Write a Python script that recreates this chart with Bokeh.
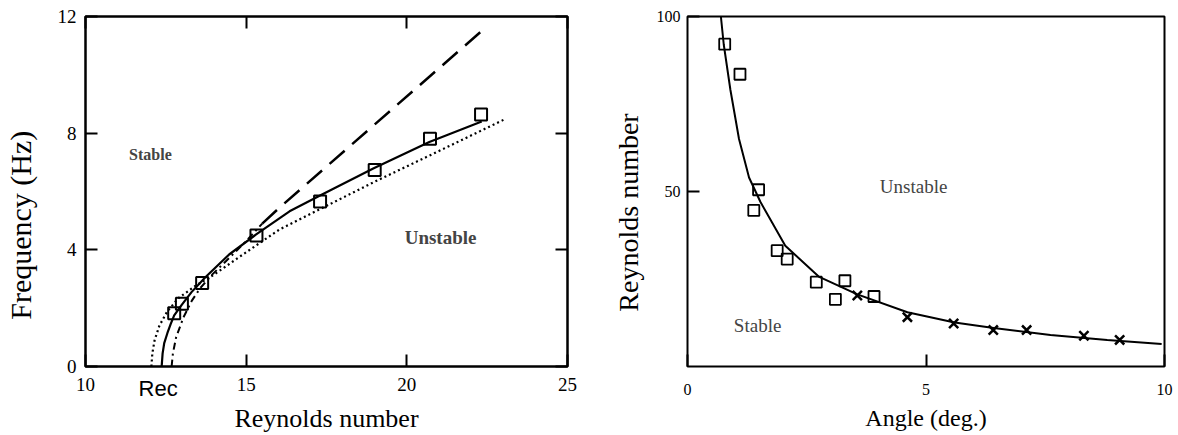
from bokeh.plotting import figure
from bokeh.layouts import row
from bokeh.models import Range1d, FixedTicker, Label, LinearAxis
from bokeh.embed import file_html
from bokeh.resources import INLINE

# ---------------- Left panel data (Frequency vs Reynolds number) ----------------
exp_re = [12.76, 13.0, 13.63, 15.32, 17.30, 19.0, 20.72, 22.31]
exp_hz = [1.83, 2.15, 2.86, 4.49, 5.66, 6.74, 7.81, 8.64]

solid_re = [12.37, 12.40, 12.45, 12.55, 12.65, 12.76, 13.0, 13.3, 13.73, 14.47, 15.30, 16.35, 17.3, 18.97, 20.70, 22.33]
solid_hz = [0.0, 0.45, 0.8, 1.15, 1.45, 1.75, 2.12, 2.55, 3.06, 3.84, 4.52, 5.32, 5.86, 6.8, 7.7, 8.4]

dot_re = [12.05, 12.08, 12.15, 12.3, 12.55, 12.9, 13.4, 14.0, 14.78, 16.04, 18.97, 20.7, 22.96, 23.08]
dot_hz = [0.0, 0.45, 0.9, 1.4, 1.9, 2.35, 2.75, 3.15, 3.75, 4.7, 6.32, 7.23, 8.43, 8.5]

dashdot_re = [12.68, 12.72, 12.82, 13.05, 13.31, 13.58, 13.94, 14.5, 15.0, 15.5]
dashdot_hz = [0.0, 0.45, 1.0, 1.69, 2.26, 2.7, 3.15, 3.75, 4.3, 4.9]

dash_re = [15.5, 16.04, 22.41]
dash_hz = [4.9, 5.45, 11.58]

left_xticks = [10, 15, 20, 25]
left_yticks = [0, 4, 8, 12]
rec_tick = [12.26]
rec_label = {12.26: "Re\u1d04"}

# ---------------- Right panel data (Reynolds number vs Angle) ----------------
sq_angle = [0.78, 1.10, 1.49, 1.39, 1.88, 2.09, 2.70, 3.10, 3.30, 3.91]
sq_re = [92.1, 83.5, 50.5, 44.6, 33.1, 30.7, 24.1, 19.2, 24.5, 20.0]

x_angle = [3.56, 4.61, 5.58, 6.41, 7.11, 8.31, 9.06]
x_re = [20.3, 14.1, 12.3, 10.4, 10.4, 8.8, 7.6]

curve_angle = [0.70, 0.76, 0.90, 1.08, 1.29, 1.53, 2.05, 2.75, 3.56, 4.61, 5.6, 6.42, 7.61, 8.80, 9.94]
curve_re = [100, 92, 79, 65, 54, 47, 34.5, 25.7, 20.6, 15.5, 12.6, 11.0, 9.0, 7.6, 6.4]

right_xticks = [0, 5, 10]
right_yticks = [50, 100]

SERIF = "Liberation Serif"
SANS = "Liberation Sans"
NB = "\u00a0"


def style_axis(ax, size):
    ax.major_tick_in = 12
    ax.major_tick_out = 0
    ax.minor_tick_in = 0
    ax.minor_tick_out = 0
    ax.major_tick_line_width = 2
    ax.major_tick_line_color = "black"
    ax.axis_line_color = None
    ax.major_label_text_font = SERIF
    ax.major_label_text_font_size = size
    ax.major_label_text_color = "black"
    ax.axis_label_text_font = SERIF
    ax.axis_label_text_font_style = "normal"
    ax.axis_label_text_color = "black"


def blank_axis(ax):
    ax.major_label_text_font_size = "0px"
    ax.major_label_text_color = None
    ax.major_label_standoff = 0
    ax.axis_label = None


# ---------------- Left figure ----------------
p1 = figure(width=600, height=435, output_backend="svg", toolbar_location=None,
            x_range=Range1d(10, 25), y_range=Range1d(0, 12),
            min_border_left=85, min_border_right=33, min_border_top=16, min_border_bottom=69)
p1.xgrid.visible = False
p1.ygrid.visible = False
p1.outline_line_color = "black"
p1.outline_line_width = 2.5
p1.background_fill_color = "white"

p1.xaxis.ticker = FixedTicker(ticks=left_xticks)
p1.yaxis.ticker = FixedTicker(ticks=left_yticks)
style_axis(p1.xaxis[0], "19px")
style_axis(p1.yaxis[0], "19px")
p1.xaxis.major_label_standoff = 11
p1.yaxis.axis_label = "Frequency (Hz)" + NB * 9
p1.yaxis.axis_label_text_font_size = "30px"
p1.yaxis.major_label_standoff = 9
p1.yaxis.axis_label_standoff = 18

# second bottom axis: carries the Re_c mark and the axis title
rec_axis = LinearAxis(ticker=FixedTicker(ticks=rec_tick))
style_axis(rec_axis, "22px")
rec_axis.major_tick_in = 0
rec_axis.major_tick_line_color = None
rec_axis.major_label_overrides = rec_label
rec_axis.major_label_text_font = SANS
rec_axis.major_label_standoff = -18
rec_axis.axis_label = "Reynolds number"
rec_axis.axis_label_text_font_size = "26px"
rec_axis.axis_label_standoff = 0
p1.add_layout(rec_axis, "below")

top1 = LinearAxis(ticker=FixedTicker(ticks=left_xticks))
right1 = LinearAxis(ticker=FixedTicker(ticks=left_yticks))
for ax in (top1, right1):
    style_axis(ax, "0px")
    blank_axis(ax)
p1.add_layout(top1, "above")
p1.add_layout(right1, "right")

p1.line(dot_re, dot_hz, line_color="black", line_width=2.2, line_dash="2 3")
p1.line(dashdot_re, dashdot_hz, line_color="black", line_width=2, line_dash="7 4 2 4")
p1.line(dash_re, dash_hz, line_color="black", line_width=2.5, line_dash="20 10")
p1.line(solid_re, solid_hz, line_color="black", line_width=2.2)
p1.scatter(exp_re, exp_hz, marker="square", size=12, fill_color=None,
           line_color="black", line_width=2)

p1.add_layout(Label(x=12.02, y=7.27, text="Stable", text_font=SERIF, text_font_size="16px",
                    text_font_style="bold", text_align="center", text_baseline="middle"))
p1.add_layout(Label(x=21.05, y=4.42, text="Unstable", text_font=SERIF, text_font_size="19px",
                    text_font_style="bold", text_align="center", text_baseline="middle"))

# ---------------- Right figure ----------------
p2 = figure(width=578, height=435, output_backend="svg", toolbar_location=None,
            x_range=Range1d(0, 10), y_range=Range1d(0, 100),
            min_border_left=87, min_border_right=14, min_border_top=15, min_border_bottom=61)
p2.xgrid.visible = False
p2.ygrid.visible = False
p2.outline_line_color = "black"
p2.outline_line_width = 2
p2.background_fill_color = "white"

p2.xaxis.ticker = FixedTicker(ticks=right_xticks)
p2.yaxis.ticker = FixedTicker(ticks=right_yticks)
style_axis(p2.xaxis[0], "16px")
style_axis(p2.yaxis[0], "16px")
p2.xaxis.major_label_standoff = 17
p2.xaxis.axis_label = "Angle (deg.)"
p2.xaxis.axis_label_text_font_size = "24px"
p2.xaxis.axis_label_standoff = 7
p2.yaxis.axis_label = "Reynolds number" + NB * 6
p2.yaxis.axis_label_text_font_size = "28px"
p2.yaxis.major_label_standoff = 7
p2.yaxis.axis_label_standoff = 10

p2.line(curve_angle, curve_re, line_color="black", line_width=2)
p2.scatter(sq_angle, sq_re, marker="square", size=11, fill_color=None,
           line_color="black", line_width=1.8)
p2.scatter(x_angle, x_re, marker="x", size=13, line_color="black", line_width=2.5)

p2.add_layout(Label(x=4.74, y=51.3, text="Unstable", text_font=SERIF, text_font_size="19px",
                    text_align="center", text_baseline="middle"))
p2.add_layout(Label(x=1.47, y=11.7, text="Stable", text_font=SERIF, text_font_size="19px",
                    text_align="center", text_baseline="middle"))

layout = row(p1, p2)
open("out.html", "w").write(file_html(layout, INLINE))
